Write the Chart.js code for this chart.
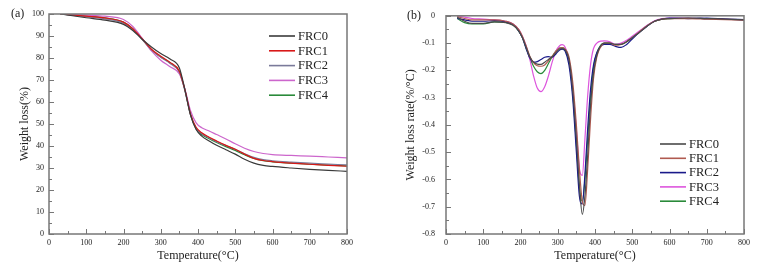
<!DOCTYPE html>
<html>
<head>
<meta charset="utf-8">
<script src="https://cdn.jsdelivr.net/npm/chart.js@4.4.0/dist/chart.umd.min.js"></script>
<style>
  body { margin: 0; background: #fff; }
  #wrap { position: relative; width: 759px; height: 274px; }
  canvas { position: absolute; top: 0; }
</style>
</head>
<body>
<div id="wrap">
  <canvas id="tga" width="380" height="274" style="left:0"></canvas>
  <canvas id="dtg" width="379" height="274" style="left:380px"></canvas>
</div>
<script>
const seriesNames = ['FRC0', 'FRC1', 'FRC2', 'FRC3', 'FRC4'];

// (a) TG curves: temperature (°C) vs weight left (%)
const tgaTemps = [30, 100, 150, 200, 225, 250, 275, 300, 325, 350, 365, 380, 395, 410, 430, 450, 475, 500, 525, 550, 575, 600, 650, 700, 750, 800];
const tgaFRC0 = [100, 98.3, 97.2, 95.3, 92.5, 88.5, 85, 82, 79.5, 75.5, 65.5, 54, 47.5, 44.5, 42.3, 40.3, 38.3, 36.3, 34, 32.2, 31.2, 30.7, 30, 29.4, 28.9, 28.5];
const tgaFRC1 = [100, 99, 98.2, 96.3, 93.3, 88.8, 84, 80.8, 78, 74, 65.5, 54.5, 48.5, 46, 44, 42.3, 40.3, 38.5, 36.3, 34.4, 33.4, 32.9, 32.2, 31.7, 31.2, 30.8];
const tgaFRC2 = [100, 98.8, 97.8, 95.8, 93, 88.5, 83.8, 80.3, 77.5, 73.5, 65, 54, 48, 45.6, 43.7, 42, 40.2, 38.5, 36.5, 34.8, 33.8, 33.3, 32.7, 32.2, 31.8, 31.4];
const tgaFRC3 = [100, 99.5, 99, 97.5, 94.3, 89, 83.2, 79, 76, 72.8, 65.8, 56, 50.5, 48.3, 46.8, 45.2, 43.2, 41, 39, 37.5, 36.6, 36.1, 35.7, 35.4, 35, 34.6];
const tgaFRC4 = [100, 99, 98.3, 96.3, 93.3, 88.6, 83.6, 80.5, 77.8, 73.8, 65.3, 54.3, 47.8, 45.2, 43.3, 41.6, 39.7, 38, 36, 34.3, 33.3, 32.8, 32.2, 31.7, 31.3, 31];

// (b) DTG curves: temperature (°C) vs weight loss rate (%/°C)
const dtgTemps = [30, 50, 70, 100, 130, 160, 180, 195, 205, 215, 225, 235, 245, 255, 265, 275, 285, 295, 305, 312, 320, 330, 340, 350, 358, 366, 373, 380, 388, 396, 405, 415, 425, 440, 455, 470, 485, 500, 520, 540, 560, 580, 600, 650, 700, 750, 800];
const dtgFRC0 = [-0.005, -0.02, -0.028, -0.028, -0.022, -0.025, -0.035, -0.055, -0.08, -0.115, -0.15, -0.17, -0.177, -0.178, -0.17, -0.16, -0.15, -0.135, -0.122, -0.12, -0.125, -0.16, -0.27, -0.45, -0.62, -0.728, -0.66, -0.52, -0.33, -0.21, -0.145, -0.11, -0.1, -0.1, -0.105, -0.105, -0.095, -0.08, -0.06, -0.038, -0.02, -0.012, -0.01, -0.008, -0.01, -0.012, -0.015];
const dtgFRC1 = [-0.003, -0.01, -0.015, -0.015, -0.015, -0.02, -0.03, -0.05, -0.075, -0.11, -0.148, -0.172, -0.183, -0.185, -0.18, -0.165, -0.148, -0.13, -0.118, -0.117, -0.122, -0.15, -0.24, -0.4, -0.56, -0.68, -0.695, -0.57, -0.38, -0.23, -0.15, -0.115, -0.1, -0.1, -0.108, -0.105, -0.095, -0.08, -0.058, -0.036, -0.02, -0.012, -0.01, -0.01, -0.012, -0.014, -0.016];
const dtgFRC2 = [-0.01, -0.015, -0.02, -0.02, -0.018, -0.022, -0.032, -0.055, -0.08, -0.12, -0.155, -0.17, -0.168, -0.16, -0.152, -0.15, -0.152, -0.14, -0.125, -0.122, -0.13, -0.18, -0.3, -0.5, -0.66, -0.69, -0.58, -0.42, -0.27, -0.18, -0.135, -0.112, -0.105, -0.105, -0.112, -0.116, -0.105, -0.085, -0.06, -0.038, -0.02, -0.012, -0.008, -0.01, -0.008, -0.012, -0.014];
const dtgFRC3 = [0, -0.005, -0.01, -0.012, -0.015, -0.02, -0.03, -0.05, -0.075, -0.11, -0.16, -0.22, -0.265, -0.278, -0.26, -0.22, -0.17, -0.13, -0.11, -0.106, -0.115, -0.16, -0.26, -0.42, -0.56, -0.585, -0.45, -0.3, -0.18, -0.12, -0.1, -0.093, -0.092, -0.095, -0.105, -0.1, -0.09, -0.075, -0.055, -0.035, -0.018, -0.01, -0.008, -0.008, -0.01, -0.012, -0.015];
const dtgFRC4 = [-0.01, -0.025, -0.03, -0.03, -0.022, -0.024, -0.034, -0.055, -0.08, -0.118, -0.155, -0.185, -0.205, -0.212, -0.2, -0.175, -0.15, -0.13, -0.118, -0.117, -0.125, -0.165, -0.28, -0.47, -0.63, -0.68, -0.6, -0.46, -0.3, -0.19, -0.135, -0.108, -0.1, -0.1, -0.105, -0.104, -0.095, -0.08, -0.058, -0.036, -0.02, -0.012, -0.01, -0.008, -0.01, -0.012, -0.015];

const tgaColors = ['#3a3a3a', '#d81818', '#7a7a9a', '#cc66cc', '#2a8a3a'];
const dtgColors = ['#4a4a4a', '#b05a50', '#1a1a8a', '#dd55dd', '#2a8a3a'];

Chart.defaults.font.family = "'Liberation Serif', 'Times New Roman', serif";
Chart.defaults.color = '#222';

const toPoints = (xs, ys) => xs.map((x, i) => ({ x: x, y: ys[i] }));

// box round the plot, inward ticks, legend and panel letter
const framePlugin = {
  id: 'frame',
  afterDatasetsDraw(chart, args, opts) {
    const { ctx, chartArea: a, scales: { x, y } } = chart;
    ctx.save();
    ctx.strokeStyle = '#777';
    ctx.lineWidth = 1.5;
    ctx.strokeRect(a.left, a.top, a.right - a.left, a.bottom - a.top);

    ctx.lineWidth = 1;
    ctx.beginPath();
    for (let v = x.min; v <= x.max + 1e-9; v += opts.xMinor) {
      const major = Math.abs(v / opts.xMajor - Math.round(v / opts.xMajor)) < 1e-6;
      const px = Math.round(x.getPixelForValue(v)) + 0.5;
      ctx.moveTo(px, a.bottom);
      ctx.lineTo(px, a.bottom - (major ? 5 : 3));
    }
    for (let v = y.min; v <= y.max + 1e-9; v += opts.yMinor) {
      const major = Math.abs(v / opts.yMajor - Math.round(v / opts.yMajor)) < 1e-6;
      const py = Math.round(y.getPixelForValue(v)) + 0.5;
      ctx.moveTo(a.left, py);
      ctx.lineTo(a.left + (major ? 5 : 3), py);
    }
    ctx.stroke();

    // legend
    ctx.font = "12.5px 'Liberation Serif'";
    ctx.textBaseline = 'middle';
    ctx.textAlign = 'left';
    chart.data.datasets.forEach((ds, i) => {
      const ly = opts.legendY + i * opts.legendDy;
      ctx.strokeStyle = ds.borderColor;
      ctx.lineWidth = 1.6;
      ctx.beginPath();
      ctx.moveTo(opts.legendX, ly);
      ctx.lineTo(opts.legendX + 26, ly);
      ctx.stroke();
      ctx.fillStyle = '#222';
      ctx.fillText(ds.label, opts.legendX + 29, ly + 0.5);
    });

    // panel letter
    ctx.font = "12px 'Liberation Serif'";
    ctx.fillText(opts.panel, opts.panelX, a.top);
    ctx.restore();
  }
};

function makeChart(id, temps, seriesList, colors, cfg) {
  return new Chart(document.getElementById(id), {
    type: 'line',
    data: {
      datasets: seriesList.map((vals, i) => ({
        label: seriesNames[i],
        data: toPoints(temps, vals),
        borderColor: colors[i],
        borderWidth: 1.2,
        pointRadius: 0,
        cubicInterpolationMode: 'monotone',
        fill: false
      }))
    },
    options: {
      responsive: false,
      animation: false,
      layout: { padding: { left: 0, right: cfg.padRight, top: 14, bottom: 0 } },
      plugins: {
        legend: { display: false },
        tooltip: { enabled: false },
        frame: cfg.frame
      },
      scales: {
        x: {
          type: 'linear',
          min: 0,
          max: 800,
          grid: { display: false, drawTicks: false },
          border: { display: false },
          ticks: { stepSize: 100, font: { size: 8 }, padding: 4, maxRotation: 0 },
          title: { display: true, text: 'Temperature(°C)', font: { size: 12 }, padding: { top: 0, bottom: 11 } },
          afterFit: s => { s.height = 40; }
        },
        y: {
          min: cfg.yMin,
          max: cfg.yMax,
          grid: { display: false, drawTicks: false },
          border: { display: false },
          ticks: {
            stepSize: cfg.yStep,
            font: { size: 8 },
            padding: cfg.yLabelPad,
            callback: cfg.yFormat
          },
          title: { display: true, text: cfg.yTitle, font: { size: 12 }, padding: { top: cfg.yTitlePad, bottom: 0 } },
          afterFit: s => { s.width = cfg.yWidth; }
        }
      }
    },
    plugins: [framePlugin]
  });
}

makeChart('tga', tgaTemps, [tgaFRC0, tgaFRC1, tgaFRC2, tgaFRC3, tgaFRC4], tgaColors, {
  padRight: 33, yMin: 0, yMax: 100, yStep: 10, yLabelPad: 5, yWidth: 49, yTitlePad: 18,
  yTitle: 'Weight loss(%)',
  yFormat: v => String(Math.round(v)),
  frame: { xMajor: 100, xMinor: 50, yMajor: 10, yMinor: 5, legendX: 269, legendY: 36, legendDy: 14.8, panel: '(a)', panelX: 11 }
});

makeChart('dtg', dtgTemps, [dtgFRC0, dtgFRC1, dtgFRC2, dtgFRC3, dtgFRC4], dtgColors, {
  padRight: 15, yMin: -0.8, yMax: 0, yStep: 0.1, yLabelPad: 11, yWidth: 66, yTitlePad: 24,
  yTitle: 'Weight loss rate(%/°C)',
  yFormat: v => (Math.abs(v) < 1e-9 ? '0' : v.toFixed(1)),
  frame: { xMajor: 100, xMinor: 50, yMajor: 0.1, yMinor: 0.05, legendX: 280, legendY: 144, legendDy: 14.3, panel: '(b)', panelX: 27 }
});
</script>
</body>
</html>
